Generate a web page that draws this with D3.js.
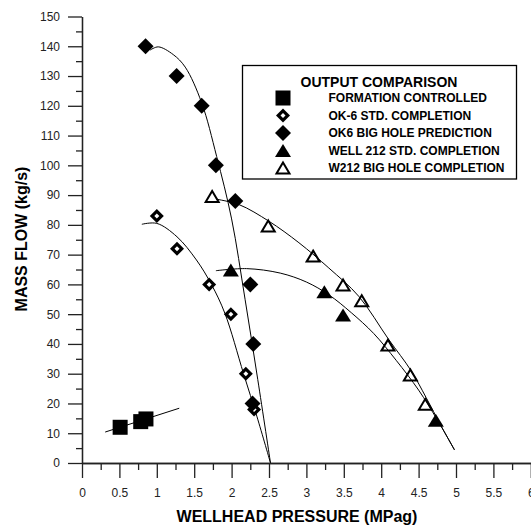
<!DOCTYPE html>
<html>
<head>
<meta charset="utf-8">
<script src="https://cdn.jsdelivr.net/npm/d3@7"></script>
<style>
  body { margin: 0; background: #fff; }
  svg { display: block; font-family: Arial, 'Liberation Sans', sans-serif; }
</style>
</head>
<body>
<div id="wrapper"></div>
<script>
// data (pressure MPag, flow kg/s)
const formationP = [0.51, 0.785, 0.855]
const formationQ = [12, 13.9, 14.8]
const formationFit = [[0.31, 10.4], [1.3, 18.4]]

const ok6StdP = [1.0, 1.27, 1.7, 1.99, 2.19, 2.3]
const ok6StdQ = [83, 72, 60, 50, 30, 18]
const ok6StdFit = [[0.8, 80.2], [1.0, 80.5], [1.27, 76], [1.53, 68.2], [1.73, 60],
  [1.91, 50.3], [2.16, 30], [2.34, 15.5], [2.52, 0]]

const ok6BigP = [0.85, 1.265, 1.6, 1.79, 2.05, 2.25, 2.29, 2.28]
const ok6BigQ = [140, 130, 120, 100, 88, 60, 40, 20]
const ok6BigFit = [[0.91, 138.7], [1.02, 139.8], [1.22, 137.2], [1.38, 133], [1.6, 121],
  [1.8, 103], [2.0, 82], [2.18, 55], [2.35, 28], [2.52, 0]]

const w212StdP = [1.99, 3.24, 3.49, 4.73]
const w212StdQ = [64.8, 57.5, 49.7, 14.4]
const w212StdFit = [[1.79, 64.6], [2.2, 65.3], [2.65, 63.8], [3.0, 60.8], [3.3, 56.5],
  [3.6, 50.5], [3.9, 43.5], [4.2, 34.5], [4.5, 24.5], [4.75, 14.5], [4.98, 4.4]]

const w212BigP = [1.74, 2.49, 3.09, 3.49, 3.74, 4.09, 4.39, 4.59]
const w212BigQ = [89.5, 79.6, 69.5, 59.8, 54.5, 39.6, 29.6, 19.7]
const w212BigFit = [[1.8, 88.6], [2.1, 86.8], [2.5, 81.2], [2.9, 74], [3.3, 65.5],
  [3.7, 56], [4.1, 41.5], [4.4, 31], [4.6, 22], [4.8, 12.5], [4.98, 4.4]]

const legendLabels = ['FORMATION CONTROLLED', 'OK-6 STD. COMPLETION', 'OK6 BIG HOLE PREDICTION',
  'WELL 212 STD. COMPLETION', 'W212 BIG HOLE COMPLETION']
const legendKinds = ['square', 'diamondOpen', 'diamond', 'triangle', 'triangleOpen']

const xMajorTicks = d3.range(0, 6.001, 0.5)
const xMinorTicks = d3.range(0.25, 6, 0.5)
const yMajorTicks = d3.range(0, 151, 10)
const yMinorTicks = d3.range(5, 150, 10)

const width = 531
const height = 525

const svg = d3.select('#wrapper').append('svg')
  .attr('width', width)
  .attr('height', height)

const xScale = d3.scaleLinear().domain([0, 6]).range([82, 530.8])
const yScale = d3.scaleLinear().domain([0, 150]).range([463, 16.5])

// axes
const axisColor = '#222'
const styleAxis = (g) => {
  g.select('.domain').attr('stroke', axisColor).attr('stroke-width', 1.3)
  g.selectAll('.tick line').attr('stroke', axisColor).attr('stroke-width', 1.3)
  g.selectAll('.tick text').attr('fill', '#222').style('font-size', '12px')
    .style('font-family', 'Arial, "Liberation Sans", sans-serif')
}

svg.append('g')
  .attr('transform', `translate(${xScale(0)},0)`)
  .call(d3.axisLeft(yScale).tickValues(yMinorTicks).tickSize(6).tickSizeOuter(0).tickFormat(''))
  .call(styleAxis)
svg.append('g')
  .attr('transform', `translate(${xScale(0)},0)`)
  .call(d3.axisLeft(yScale).tickValues(yMajorTicks).tickSize(14).tickSizeOuter(0).tickPadding(8))
  .call(styleAxis)

svg.append('g')
  .attr('transform', `translate(0,${yScale(0)})`)
  .call(d3.axisBottom(xScale).tickValues(xMinorTicks).tickSize(7).tickSizeOuter(0).tickFormat(''))
  .call(styleAxis)
svg.append('g')
  .attr('transform', `translate(0,${yScale(0)})`)
  .call(d3.axisBottom(xScale).tickValues(xMajorTicks).tickSize(15).tickSizeOuter(0).tickPadding(10)
    .tickFormat((d) => d3.format('~g')(d)))
  .call(styleAxis)

// axis titles
svg.append('text')
  .attr('x', 297)
  .attr('y', 521.5)
  .attr('text-anchor', 'middle')
  .style('font-size', '16px')
  .style('font-weight', 'bold')
  .text('WELLHEAD PRESSURE (MPag)')

svg.append('text')
  .attr('transform', 'translate(27,239) rotate(-90)')
  .attr('text-anchor', 'middle')
  .style('font-size', '16px')
  .style('font-weight', 'bold')
  .text('MASS FLOW (kg/s)')

// fitted curves
const line = d3.line()
  .x((d) => xScale(d[0]))
  .y((d) => yScale(d[1]))
  .curve(d3.curveCatmullRom.alpha(0.5))

const curves = [formationFit, ok6StdFit, ok6BigFit, w212StdFit, w212BigFit]
svg.append('g')
  .selectAll('path')
  .data(curves)
  .join('path')
  .attr('d', line)
  .attr('fill', 'none')
  .attr('stroke', '#000')
  .attr('stroke-width', 1)

// markers
const drawMarker = (g, kind) => {
  if (kind === 'square') {
    g.append('rect').attr('x', -7.5).attr('y', -7.5).attr('width', 15).attr('height', 15).attr('fill', '#000')
  } else if (kind === 'diamond') {
    g.append('path').attr('d', 'M0,-8L8,0L0,8L-8,0Z').attr('fill', '#000')
  } else if (kind === 'diamondOpen') {
    g.append('path').attr('d', 'M0,-7L7,0L0,7L-7,0Z').attr('fill', '#000')
    g.append('path').attr('d', 'M0,-2.5L2.5,0L0,2.5L-2.5,0Z').attr('fill', '#fff')
  } else if (kind === 'triangle') {
    g.append('path').attr('d', 'M0,-6.5L8,6.5L-8,6.5Z').attr('fill', '#000')
  } else if (kind === 'triangleOpen') {
    g.append('path').attr('d', 'M0,-5.5L6.5,5.5L-6.5,5.5Z')
      .attr('fill', 'none').attr('stroke', '#000').attr('stroke-width', 2)
  }
}

const series = [
  { kind: 'square', p: formationP, q: formationQ },
  { kind: 'diamondOpen', p: ok6StdP, q: ok6StdQ },
  { kind: 'diamond', p: ok6BigP, q: ok6BigQ },
  { kind: 'triangleOpen', p: w212BigP, q: w212BigQ },
  { kind: 'triangle', p: w212StdP, q: w212StdQ },
]

series.forEach((s) => {
  s.p.forEach((p, i) => {
    const g = svg.append('g').attr('transform', `translate(${xScale(p)},${yScale(s.q[i])})`)
    drawMarker(g, s.kind)
  })
})

// legend
const legend = svg.append('g')
legend.append('rect')
  .attr('x', 242.5).attr('y', 65.5)
  .attr('width', 274).attr('height', 113.5)
  .attr('fill', '#fff')
  .attr('stroke', '#000')
  .attr('stroke-width', 1.3)

legend.append('text')
  .attr('x', 379).attr('y', 87)
  .attr('text-anchor', 'middle')
  .style('font-size', '14px')
  .style('font-weight', 'bold')
  .text('OUTPUT COMPARISON')

legendLabels.forEach((label, i) => {
  const cy = 98 + i * 17.5
  const g = legend.append('g').attr('transform', `translate(283,${cy})`)
  drawMarker(g, legendKinds[i])
  legend.append('text')
    .attr('x', 328.5).attr('y', cy + 4.4)
    .style('font-size', '12px')
    .style('font-weight', 'bold')
    .text(label)
})
</script>
</body>
</html>
